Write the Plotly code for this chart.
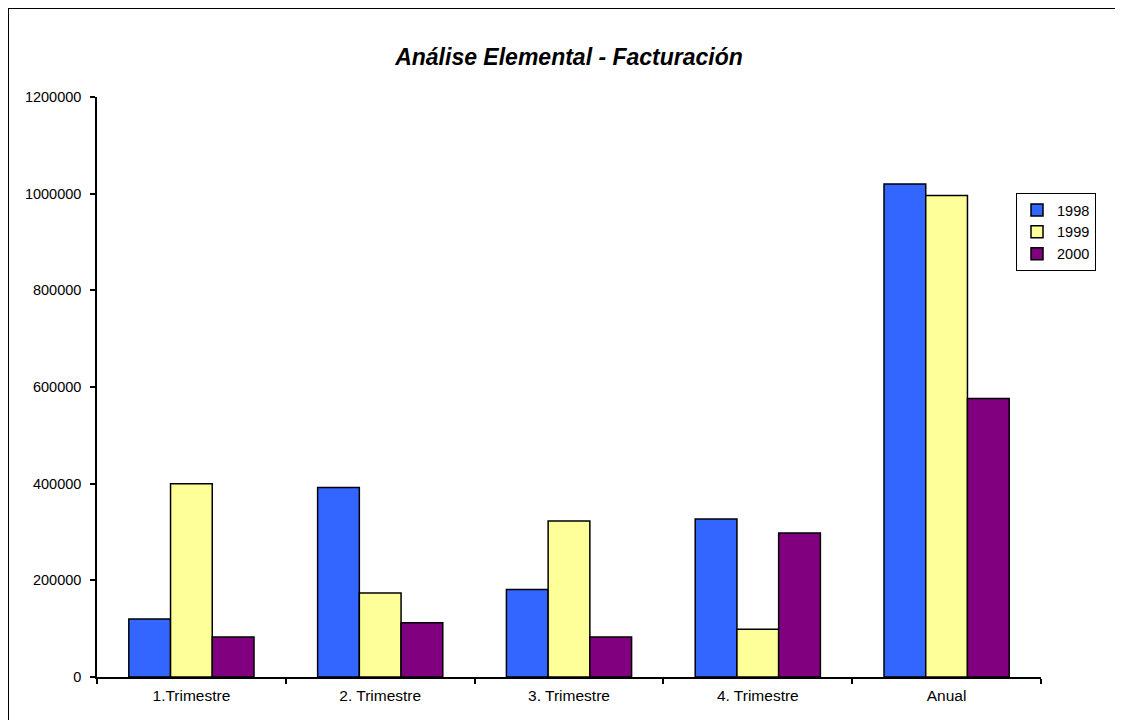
import plotly.graph_objects as go

categories = ["1.Trimestre", "2. Trimestre", "3. Trimestre", "4. Trimestre", "Anual"]
v1998 = [120000, 392000, 181000, 327000, 1020000]
v1999 = [400000, 174000, 323000, 99000, 996000]
v2000 = [83000, 112000, 83000, 298000, 576000]
series_names = ["1998", "1999", "2000"]
colors = ["#3366FF", "#FFFF99", "#800080"]
y_ticks = [0, 200000, 400000, 600000, 800000, 1000000, 1200000]

fig = go.Figure()
for name, vals, col in zip(series_names, [v1998, v1999, v2000], colors):
    fig.add_trace(go.Bar(
        x=categories, y=vals, name=name,
        marker=dict(color=col, line=dict(color="black", width=1.5)),
    ))

OFF = 8  # page body margin
W, H = 1123 - OFF, 720 - OFF
ml, mr, mt, mb = 97 - OFF, 82, 97 - OFF, 43
pw, ph = W - ml - mr, H - mt - mb

def px_x(page_x):
    return (page_x - OFF - ml) / pw

def px_y(page_y):
    return (H - mb - (page_y - OFF)) / ph

fig.update_layout(
    width=W, height=H,
    margin=dict(l=ml, r=mr, t=mt, b=mb),
    paper_bgcolor="white", plot_bgcolor="white",
    barmode="group", bargap=0.337, bargroupgap=0,
    font=dict(family="Liberation Sans, Arial, sans-serif", color="black", size=14),
    title=dict(text="<b><i>Análise Elemental - Facturación</i></b>",
               x=0.5, xref="paper", xanchor="center",
               y=1 - (57 - OFF) / H, yref="container", yanchor="middle",
               font=dict(size=23, color="black")),
    legend=dict(x=px_x(1016), y=px_y(193), xanchor="left", yanchor="top",
                bordercolor="black", borderwidth=1, bgcolor="white",
                font=dict(size=14.5), itemwidth=30, tracegroupgap=0),
    showlegend=True,
)
fig.update_xaxes(
    showline=True, linecolor="black", linewidth=1.5,
    ticks="outside", ticklen=5, tickcolor="black", tickwidth=1.5,
    tickson="boundaries", showgrid=False, zeroline=False,
    tickfont=dict(size=15.5), ticklabelstandoff=4,
)
fig.update_yaxes(
    range=[0, 1200000], tickvals=y_ticks, ticktext=[str(v) for v in y_ticks],
    showline=True, linecolor="black", linewidth=1.5,
    ticks="outside", ticklen=5, tickcolor="black", tickwidth=1.5,
    showgrid=False, zeroline=False, tickfont=dict(size=14.5), ticklabelstandoff=6,
)
fig.add_shape(type="rect", xref="paper", yref="paper",
              x0=px_x(8), x1=px_x(1150),
              y0=px_y(750), y1=px_y(8),
              line=dict(color="black", width=2), fillcolor="rgba(0,0,0,0)", layer="below")

fig.write_html("out.html")
